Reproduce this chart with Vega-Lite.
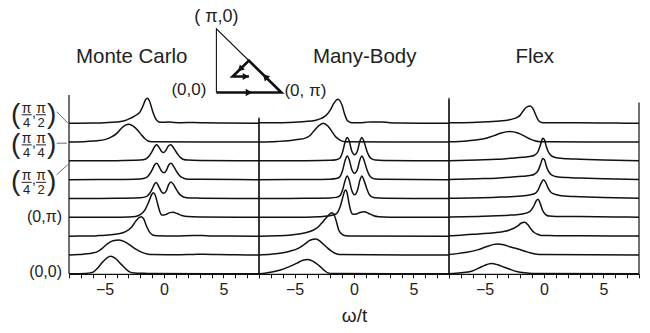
{
  "$schema": "https://vega.github.io/schema/vega-lite/v6.json",
  "padding": {"left": 11, "top": 7, "right": 0, "bottom": 0},
  "bounds": "flush",
  "spacing": 0,
  "config": {
    "view": {"stroke": null},
    "axis": {"tickSize": 4, "tickColor": "#111", "domainColor": "#111", "domainWidth": 1.2, "tickWidth": 1, "labelFontSize": 16, "labelColor": "#222", "labelPadding": 4, "grid": false, "labelFont": "Liberation Sans", "titleFont": "Liberation Sans", "titleFontSize": 19, "titleFontWeight": "normal", "titleColor": "#222", "titlePadding": 9, "labelFlush": false},
    "text": {"font": "Liberation Sans", "color": "#222"}
  },
  "datasets": {
    "mc": [
      {"k":8,"w":-8,"y":8},{"k":8,"w":-6,"y":8.01},{"k":8,"w":-5,"y":8.03},{"k":8,"w":-4,"y":8.06},{"k":8,"w":-3.5,"y":8.1},{"k":8,"w":-2.8,"y":8.27},{"k":8,"w":-2.3,"y":8.45},{"k":8,"w":-2,"y":8.62},{"k":8,"w":-1.75,"y":8.95},{"k":8,"w":-1.55,"y":9.25},{"k":8,"w":-1.4,"y":9.33},{"k":8,"w":-1.25,"y":9.22},{"k":8,"w":-1.1,"y":8.95},{"k":8,"w":-0.95,"y":8.62},{"k":8,"w":-0.75,"y":8.3},{"k":8,"w":-0.55,"y":8.12},{"k":8,"w":-0.3,"y":8.05},{"k":8,"w":0.1,"y":8.05},{"k":8,"w":0.45,"y":8.07},{"k":8,"w":0.9,"y":8.04},{"k":8,"w":1.5,"y":8.03},{"k":8,"w":2.5,"y":8.04},{"k":8,"w":3.5,"y":8.02},{"k":8,"w":5,"y":8.01},{"k":8,"w":8,"y":8},
      {"k":7,"w":-8,"y":7},{"k":7,"w":-6.5,"y":7.03},{"k":7,"w":-5.6,"y":7.07},{"k":7,"w":-5,"y":7.13},{"k":7,"w":-4.5,"y":7.25},{"k":7,"w":-4,"y":7.45},{"k":7,"w":-3.6,"y":7.72},{"k":7,"w":-3.25,"y":7.9},{"k":7,"w":-2.94,"y":7.95},{"k":7,"w":-2.6,"y":7.85},{"k":7,"w":-2.2,"y":7.62},{"k":7,"w":-1.9,"y":7.38},{"k":7,"w":-1.65,"y":7.2},{"k":7,"w":-1.4,"y":7.08},{"k":7,"w":-1.2,"y":7.03},{"k":7,"w":-0.8,"y":7.01},{"k":7,"w":8,"y":7},
      {"k":6,"w":-8,"y":6},{"k":6,"w":-4,"y":6.01},{"k":6,"w":-2,"y":6.04},{"k":6,"w":-1.53,"y":6.1},{"k":6,"w":-1.2,"y":6.3},{"k":6,"w":-1,"y":6.5},{"k":6,"w":-0.8,"y":6.75},{"k":6,"w":-0.62,"y":6.85},{"k":6,"w":-0.4,"y":6.7},{"k":6,"w":-0.2,"y":6.5},{"k":6,"w":-0.04,"y":6.44},{"k":6,"w":0.15,"y":6.55},{"k":6,"w":0.35,"y":6.78},{"k":6,"w":0.56,"y":6.85},{"k":6,"w":0.8,"y":6.7},{"k":6,"w":1,"y":6.5},{"k":6,"w":1.2,"y":6.32},{"k":6,"w":1.4,"y":6.17},{"k":6,"w":1.6,"y":6.09},{"k":6,"w":2,"y":6.04},{"k":6,"w":3,"y":6.02},{"k":6,"w":8,"y":6},
      {"k":5,"w":-8,"y":5},{"k":5,"w":-4,"y":5.01},{"k":5,"w":-2,"y":5.04},{"k":5,"w":-1.5,"y":5.11},{"k":5,"w":-1.2,"y":5.3},{"k":5,"w":-1,"y":5.52},{"k":5,"w":-0.8,"y":5.78},{"k":5,"w":-0.6,"y":5.87},{"k":5,"w":-0.4,"y":5.68},{"k":5,"w":-0.2,"y":5.45},{"k":5,"w":0,"y":5.37},{"k":5,"w":0.2,"y":5.5},{"k":5,"w":0.4,"y":5.78},{"k":5,"w":0.6,"y":5.87},{"k":5,"w":0.8,"y":5.72},{"k":5,"w":1,"y":5.5},{"k":5,"w":1.2,"y":5.3},{"k":5,"w":1.4,"y":5.16},{"k":5,"w":1.65,"y":5.08},{"k":5,"w":2.1,"y":5.03},{"k":5,"w":3,"y":5.02},{"k":5,"w":8,"y":5},
      {"k":4,"w":-8,"y":4},{"k":4,"w":-4,"y":4.01},{"k":4,"w":-2,"y":4.04},{"k":4,"w":-1.5,"y":4.1},{"k":4,"w":-1.2,"y":4.28},{"k":4,"w":-1,"y":4.5},{"k":4,"w":-0.8,"y":4.77},{"k":4,"w":-0.65,"y":4.85},{"k":4,"w":-0.45,"y":4.65},{"k":4,"w":-0.2,"y":4.35},{"k":4,"w":0,"y":4.28},{"k":4,"w":0.2,"y":4.42},{"k":4,"w":0.4,"y":4.75},{"k":4,"w":0.59,"y":4.88},{"k":4,"w":0.8,"y":4.75},{"k":4,"w":1,"y":4.52},{"k":4,"w":1.2,"y":4.32},{"k":4,"w":1.45,"y":4.15},{"k":4,"w":1.7,"y":4.07},{"k":4,"w":2.2,"y":4.03},{"k":4,"w":3,"y":4.02},{"k":4,"w":8,"y":4},
      {"k":3,"w":-8,"y":3},{"k":3,"w":-4,"y":3.01},{"k":3,"w":-3,"y":3.02},{"k":3,"w":-2.4,"y":3.05},{"k":3,"w":-2,"y":3.15},{"k":3,"w":-1.6,"y":3.4},{"k":3,"w":-1.3,"y":3.8},{"k":3,"w":-1.05,"y":4.2},{"k":3,"w":-0.9,"y":4.31},{"k":3,"w":-0.75,"y":4.2},{"k":3,"w":-0.55,"y":3.75},{"k":3,"w":-0.35,"y":3.3},{"k":3,"w":-0.2,"y":3.13},{"k":3,"w":0,"y":3.12},{"k":3,"w":0.25,"y":3.18},{"k":3,"w":0.5,"y":3.25},{"k":3,"w":0.76,"y":3.27},{"k":3,"w":1.1,"y":3.2},{"k":3,"w":1.5,"y":3.1},{"k":3,"w":2,"y":3.04},{"k":3,"w":3,"y":3.02},{"k":3,"w":8,"y":3},
      {"k":2,"w":-8,"y":2},{"k":2,"w":-6,"y":2.01},{"k":2,"w":-5.5,"y":2.03},{"k":2,"w":-4.5,"y":2.08},{"k":2,"w":-3.7,"y":2.14},{"k":2,"w":-3.2,"y":2.25},{"k":2,"w":-2.7,"y":2.5},{"k":2,"w":-2.35,"y":2.82},{"k":2,"w":-2.1,"y":2.98},{"k":2,"w":-1.9,"y":3.03},{"k":2,"w":-1.7,"y":2.9},{"k":2,"w":-1.45,"y":2.5},{"k":2,"w":-1.2,"y":2.2},{"k":2,"w":-0.95,"y":2.06},{"k":2,"w":-0.6,"y":2.02},{"k":2,"w":1,"y":2.01},{"k":2,"w":2.5,"y":2.03},{"k":2,"w":3.2,"y":2.03},{"k":2,"w":4,"y":2.01},{"k":2,"w":8,"y":2},
      {"k":1,"w":-8,"y":1},{"k":1,"w":-7.2,"y":1.02},{"k":1,"w":-6.7,"y":1.05},{"k":1,"w":-6,"y":1.1},{"k":1,"w":-5.6,"y":1.18},{"k":1,"w":-5.2,"y":1.35},{"k":1,"w":-4.8,"y":1.58},{"k":1,"w":-4.3,"y":1.76},{"k":1,"w":-3.78,"y":1.8},{"k":1,"w":-3.3,"y":1.7},{"k":1,"w":-2.8,"y":1.5},{"k":1,"w":-2.3,"y":1.28},{"k":1,"w":-1.85,"y":1.14},{"k":1,"w":-1.4,"y":1.05},{"k":1,"w":-1,"y":1.02},{"k":1,"w":1,"y":1.01},{"k":1,"w":2.5,"y":1.03},{"k":1,"w":3.4,"y":1.04},{"k":1,"w":4.5,"y":1.02},{"k":1,"w":6,"y":1.01},{"k":1,"w":8,"y":1},
      {"k":0,"w":-8,"y":0},{"k":0,"w":-6.6,"y":0.02},{"k":0,"w":-6.2,"y":0.05},{"k":0,"w":-5.9,"y":0.12},{"k":0,"w":-5.6,"y":0.3},{"k":0,"w":-5.2,"y":0.6},{"k":0,"w":-4.8,"y":0.85},{"k":0,"w":-4.48,"y":0.93},{"k":0,"w":-4.1,"y":0.82},{"k":0,"w":-3.6,"y":0.5},{"k":0,"w":-3.2,"y":0.25},{"k":0,"w":-2.9,"y":0.1},{"k":0,"w":-2.5,"y":0.04},{"k":0,"w":-2,"y":0.03},{"k":0,"w":-1.65,"y":0.03},{"k":0,"w":-1.2,"y":0.01},{"k":0,"w":8,"y":0}
    ],
    "mb": [
      {"k":8,"w":-8,"y":8.02},{"k":8,"w":-6,"y":8.03},{"k":8,"w":-5.5,"y":8.04},{"k":8,"w":-4.1,"y":8.09},{"k":8,"w":-3.3,"y":8.15},{"k":8,"w":-2.7,"y":8.27},{"k":8,"w":-2.3,"y":8.45},{"k":8,"w":-2,"y":8.7},{"k":8,"w":-1.7,"y":9.05},{"k":8,"w":-1.5,"y":9.22},{"k":8,"w":-1.36,"y":9.27},{"k":8,"w":-1.2,"y":9.2},{"k":8,"w":-1,"y":8.95},{"k":8,"w":-0.8,"y":8.5},{"k":8,"w":-0.6,"y":8.18},{"k":8,"w":-0.4,"y":8.07},{"k":8,"w":-0.19,"y":8.03},{"k":8,"w":0.5,"y":8.03},{"k":8,"w":1,"y":8.05},{"k":8,"w":1.4,"y":8.07},{"k":8,"w":2.3,"y":8.07},{"k":8,"w":3,"y":8.03},{"k":8,"w":4,"y":8.01},{"k":8,"w":8,"y":8},
      {"k":7,"w":-8,"y":7},{"k":7,"w":-6.5,"y":7.03},{"k":7,"w":-5.5,"y":7.07},{"k":7,"w":-4.8,"y":7.13},{"k":7,"w":-4.1,"y":7.21},{"k":7,"w":-3.7,"y":7.35},{"k":7,"w":-3.4,"y":7.57},{"k":7,"w":-3,"y":7.85},{"k":7,"w":-2.58,"y":8},{"k":7,"w":-2.2,"y":7.85},{"k":7,"w":-1.87,"y":7.57},{"k":7,"w":-1.6,"y":7.32},{"k":7,"w":-1.3,"y":7.16},{"k":7,"w":-1,"y":7.05},{"k":7,"w":-0.73,"y":7.01},{"k":7,"w":8,"y":7},
      {"k":6,"w":-8,"y":6},{"k":6,"w":-4,"y":6.01},{"k":6,"w":-2,"y":6.03},{"k":6,"w":-1.5,"y":6.06},{"k":6,"w":-1.2,"y":6.14},{"k":6,"w":-0.95,"y":6.5},{"k":6,"w":-0.75,"y":7},{"k":6,"w":-0.57,"y":7.24},{"k":6,"w":-0.4,"y":7.05},{"k":6,"w":-0.2,"y":6.55},{"k":6,"w":0.05,"y":6.32},{"k":6,"w":0.3,"y":6.55},{"k":6,"w":0.5,"y":7.05},{"k":6,"w":0.67,"y":7.24},{"k":6,"w":0.85,"y":7},{"k":6,"w":1.1,"y":6.5},{"k":6,"w":1.3,"y":6.22},{"k":6,"w":1.5,"y":6.1},{"k":6,"w":1.8,"y":6.04},{"k":6,"w":2.5,"y":6.02},{"k":6,"w":8,"y":6},
      {"k":5,"w":-8,"y":5},{"k":5,"w":-4,"y":5.01},{"k":5,"w":-2,"y":5.03},{"k":5,"w":-1.5,"y":5.06},{"k":5,"w":-1.2,"y":5.15},{"k":5,"w":-0.95,"y":5.52},{"k":5,"w":-0.75,"y":6.02},{"k":5,"w":-0.57,"y":6.26},{"k":5,"w":-0.4,"y":6.06},{"k":5,"w":-0.2,"y":5.57},{"k":5,"w":0.05,"y":5.34},{"k":5,"w":0.3,"y":5.57},{"k":5,"w":0.5,"y":6.06},{"k":5,"w":0.67,"y":6.26},{"k":5,"w":0.85,"y":6.02},{"k":5,"w":1.1,"y":5.52},{"k":5,"w":1.3,"y":5.23},{"k":5,"w":1.5,"y":5.1},{"k":5,"w":1.8,"y":5.04},{"k":5,"w":2.5,"y":5.02},{"k":5,"w":8,"y":5},
      {"k":4,"w":-8,"y":4},{"k":4,"w":-4,"y":4.01},{"k":4,"w":-2,"y":4.03},{"k":4,"w":-1.5,"y":4.06},{"k":4,"w":-1.2,"y":4.14},{"k":4,"w":-0.95,"y":4.48},{"k":4,"w":-0.75,"y":4.95},{"k":4,"w":-0.57,"y":5.2},{"k":4,"w":-0.4,"y":4.98},{"k":4,"w":-0.2,"y":4.45},{"k":4,"w":0.05,"y":4.2},{"k":4,"w":0.3,"y":4.45},{"k":4,"w":0.5,"y":4.98},{"k":4,"w":0.67,"y":5.2},{"k":4,"w":0.85,"y":4.95},{"k":4,"w":1.1,"y":4.48},{"k":4,"w":1.3,"y":4.2},{"k":4,"w":1.5,"y":4.09},{"k":4,"w":1.8,"y":4.04},{"k":4,"w":2.5,"y":4.02},{"k":4,"w":8,"y":4},
      {"k":3,"w":-8,"y":3},{"k":3,"w":-4,"y":3.01},{"k":3,"w":-3,"y":3.03},{"k":3,"w":-2.2,"y":3.07},{"k":3,"w":-1.8,"y":3.12},{"k":3,"w":-1.45,"y":3.21},{"k":3,"w":-1.16,"y":3.57},{"k":3,"w":-0.95,"y":4.05},{"k":3,"w":-0.8,"y":4.38},{"k":3,"w":-0.7,"y":4.45},{"k":3,"w":-0.58,"y":4.3},{"k":3,"w":-0.45,"y":3.85},{"k":3,"w":-0.3,"y":3.4},{"k":3,"w":-0.1,"y":3.17},{"k":3,"w":0.2,"y":3.18},{"k":3,"w":0.5,"y":3.26},{"k":3,"w":0.87,"y":3.3},{"k":3,"w":1.2,"y":3.22},{"k":3,"w":1.6,"y":3.1},{"k":3,"w":2.1,"y":3.03},{"k":3,"w":3,"y":3.01},{"k":3,"w":8,"y":3},
      {"k":2,"w":-8,"y":2},{"k":2,"w":-6.5,"y":2.02},{"k":2,"w":-5.5,"y":2.05},{"k":2,"w":-4.8,"y":2.1},{"k":2,"w":-4.1,"y":2.18},{"k":2,"w":-3.5,"y":2.3},{"k":2,"w":-3,"y":2.5},{"k":2,"w":-2.7,"y":2.71},{"k":2,"w":-2.3,"y":3},{"k":2,"w":-2,"y":3.2},{"k":2,"w":-1.86,"y":3.24},{"k":2,"w":-1.65,"y":3.1},{"k":2,"w":-1.45,"y":2.7},{"k":2,"w":-1.3,"y":2.35},{"k":2,"w":-1.1,"y":2.15},{"k":2,"w":-0.88,"y":2.05},{"k":2,"w":-0.5,"y":2.01},{"k":2,"w":8,"y":2},
      {"k":1,"w":-8,"y":1},{"k":1,"w":-7,"y":1.04},{"k":1,"w":-6.1,"y":1.1},{"k":1,"w":-5.4,"y":1.2},{"k":1,"w":-4.7,"y":1.35},{"k":1,"w":-4.2,"y":1.55},{"k":1,"w":-3.7,"y":1.78},{"k":1,"w":-3.2,"y":1.85},{"k":1,"w":-2.8,"y":1.7},{"k":1,"w":-2.3,"y":1.41},{"k":1,"w":-1.9,"y":1.2},{"k":1,"w":-1.6,"y":1.09},{"k":1,"w":-1.2,"y":1.02},{"k":1,"w":8,"y":1},
      {"k":0,"w":-8,"y":0},{"k":0,"w":-7.5,"y":0.03},{"k":0,"w":-6.9,"y":0.09},{"k":0,"w":-6.2,"y":0.2},{"k":0,"w":-5.5,"y":0.37},{"k":0,"w":-4.8,"y":0.57},{"k":0,"w":-4.3,"y":0.72},{"k":0,"w":-3.9,"y":0.76},{"k":0,"w":-3.4,"y":0.65},{"k":0,"w":-2.9,"y":0.41},{"k":0,"w":-2.5,"y":0.18},{"k":0,"w":-2.2,"y":0.05},{"k":0,"w":-1.8,"y":0.01},{"k":0,"w":8,"y":0}
    ],
    "fx": [
      {"k":8,"w":-8,"y":8.02},{"k":8,"w":-6,"y":8.04},{"k":8,"w":-4,"y":8.1},{"k":8,"w":-2.8,"y":8.2},{"k":8,"w":-2.3,"y":8.3},{"k":8,"w":-2,"y":8.43},{"k":8,"w":-1.7,"y":8.7},{"k":8,"w":-1.4,"y":8.88},{"k":8,"w":-1.15,"y":8.92},{"k":8,"w":-0.95,"y":8.8},{"k":8,"w":-0.7,"y":8.45},{"k":8,"w":-0.5,"y":8.18},{"k":8,"w":-0.3,"y":8.06},{"k":8,"w":-0.1,"y":8.03},{"k":8,"w":1,"y":8.03},{"k":8,"w":3,"y":8.02},{"k":8,"w":6,"y":8.01},{"k":8,"w":8,"y":8},
      {"k":7,"w":-8,"y":7.01},{"k":7,"w":-6.5,"y":7.06},{"k":7,"w":-5.6,"y":7.12},{"k":7,"w":-4.8,"y":7.22},{"k":7,"w":-4.2,"y":7.34},{"k":7,"w":-3.6,"y":7.48},{"k":7,"w":-2.9,"y":7.56},{"k":7,"w":-2.2,"y":7.48},{"k":7,"w":-1.6,"y":7.3},{"k":7,"w":-1.1,"y":7.14},{"k":7,"w":-0.8,"y":7.07},{"k":7,"w":-0.3,"y":7.02},{"k":7,"w":0.5,"y":7.01},{"k":7,"w":8,"y":7},
      {"k":6,"w":-8,"y":6.01},{"k":6,"w":-5.6,"y":6.05},{"k":6,"w":-4,"y":6.08},{"k":6,"w":-2.8,"y":6.14},{"k":6,"w":-1.8,"y":6.19},{"k":6,"w":-1.2,"y":6.23},{"k":6,"w":-0.8,"y":6.3},{"k":6,"w":-0.5,"y":6.5},{"k":6,"w":-0.3,"y":6.85},{"k":6,"w":-0.1,"y":7.2},{"k":6,"w":0.05,"y":7.1},{"k":6,"w":0.2,"y":6.75},{"k":6,"w":0.35,"y":6.5},{"k":6,"w":0.6,"y":6.28},{"k":6,"w":1.05,"y":6.16},{"k":6,"w":2,"y":6.11},{"k":6,"w":3,"y":6.09},{"k":6,"w":5,"y":6.05},{"k":6,"w":8,"y":6.01},
      {"k":5,"w":-8,"y":5.01},{"k":5,"w":-5.6,"y":5.05},{"k":5,"w":-4,"y":5.08},{"k":5,"w":-2.8,"y":5.13},{"k":5,"w":-1.8,"y":5.18},{"k":5,"w":-1.2,"y":5.22},{"k":5,"w":-0.8,"y":5.29},{"k":5,"w":-0.5,"y":5.48},{"k":5,"w":-0.3,"y":5.8},{"k":5,"w":-0.1,"y":6.13},{"k":5,"w":0.05,"y":6.05},{"k":5,"w":0.2,"y":5.72},{"k":5,"w":0.35,"y":5.48},{"k":5,"w":0.6,"y":5.27},{"k":5,"w":1.05,"y":5.16},{"k":5,"w":2,"y":5.11},{"k":5,"w":3,"y":5.09},{"k":5,"w":5,"y":5.05},{"k":5,"w":8,"y":5.01},
      {"k":4,"w":-8,"y":4.01},{"k":4,"w":-4,"y":4.07},{"k":4,"w":-2.8,"y":4.1},{"k":4,"w":-1.5,"y":4.16},{"k":4,"w":-0.8,"y":4.25},{"k":4,"w":-0.5,"y":4.45},{"k":4,"w":-0.25,"y":4.8},{"k":4,"w":-0.05,"y":5},{"k":4,"w":0.15,"y":4.85},{"k":4,"w":0.35,"y":4.55},{"k":4,"w":0.6,"y":4.32},{"k":4,"w":1.05,"y":4.2},{"k":4,"w":2,"y":4.12},{"k":4,"w":3,"y":4.1},{"k":4,"w":5,"y":4.06},{"k":4,"w":8,"y":4.02},
      {"k":3,"w":-8,"y":3.01},{"k":3,"w":-5.6,"y":3.05},{"k":3,"w":-4,"y":3.08},{"k":3,"w":-2.8,"y":3.12},{"k":3,"w":-1.8,"y":3.18},{"k":3,"w":-1.2,"y":3.3},{"k":3,"w":-0.9,"y":3.55},{"k":3,"w":-0.65,"y":3.88},{"k":3,"w":-0.5,"y":3.96},{"k":3,"w":-0.3,"y":3.7},{"k":3,"w":-0.1,"y":3.35},{"k":3,"w":0.05,"y":3.2},{"k":3,"w":0.25,"y":3.1},{"k":3,"w":0.45,"y":3.07},{"k":3,"w":1,"y":3.05},{"k":3,"w":3,"y":3.04},{"k":3,"w":6,"y":3.02},{"k":3,"w":8,"y":3.01},
      {"k":2,"w":-8,"y":2.02},{"k":2,"w":-7,"y":2.05},{"k":2,"w":-5.5,"y":2.12},{"k":2,"w":-4.2,"y":2.18},{"k":2,"w":-3.3,"y":2.26},{"k":2,"w":-2.8,"y":2.35},{"k":2,"w":-2.2,"y":2.55},{"k":2,"w":-1.9,"y":2.7},{"k":2,"w":-1.63,"y":2.74},{"k":2,"w":-1.35,"y":2.6},{"k":2,"w":-1.07,"y":2.35},{"k":2,"w":-0.8,"y":2.18},{"k":2,"w":-0.5,"y":2.09},{"k":2,"w":-0.2,"y":2.04},{"k":2,"w":0.5,"y":2.03},{"k":2,"w":3,"y":2.02},{"k":2,"w":8,"y":2.01},
      {"k":1,"w":-8,"y":1.02},{"k":1,"w":-7.6,"y":1.05},{"k":1,"w":-6.5,"y":1.14},{"k":1,"w":-5.6,"y":1.27},{"k":1,"w":-4.8,"y":1.45},{"k":1,"w":-4.3,"y":1.55},{"k":1,"w":-3.9,"y":1.58},{"k":1,"w":-3.4,"y":1.54},{"k":1,"w":-2.8,"y":1.42},{"k":1,"w":-2.2,"y":1.32},{"k":1,"w":-1.6,"y":1.2},{"k":1,"w":-1.1,"y":1.1},{"k":1,"w":-0.6,"y":1.04},{"k":1,"w":-0.2,"y":1.02},{"k":1,"w":8,"y":1},
      {"k":0,"w":-8,"y":0},{"k":0,"w":-7,"y":0.05},{"k":0,"w":-6.1,"y":0.14},{"k":0,"w":-5.5,"y":0.3},{"k":0,"w":-5,"y":0.45},{"k":0,"w":-4.44,"y":0.55},{"k":0,"w":-3.9,"y":0.48},{"k":0,"w":-3.4,"y":0.36},{"k":0,"w":-3,"y":0.27},{"k":0,"w":-2.3,"y":0.12},{"k":0,"w":-1.6,"y":0.05},{"k":0,"w":-1,"y":0.02},{"k":0,"w":8,"y":0}
    ],
    "frac": [
      {"y": 8.45, "d1": "4", "d2": "2"},
      {"y": 6.85, "d1": "4", "d2": "4"},
      {"y": 4.86, "d1": "4", "d2": "2"}
    ],
    "lbl": [
      {"y": 3.0, "t": "(0,π)"},
      {"y": 0.1, "t": "(0,0)"}
    ],
    "lead": [
      {"x1": -9.04, "y1": 8.61, "x2": -8.11, "y2": 8.02},
      {"x1": -9.04, "y1": 6.94, "x2": -8.19, "y2": 6.94},
      {"x1": -9.04, "y1": 5.26, "x2": -8.11, "y2": 5.79}
    ],
    "tri": [
      {"o": 1, "kx": 0, "ky": 0},
      {"o": 2, "kx": 3.1416, "ky": 0},
      {"o": 3, "kx": 0, "ky": 3.1416}
    ],
    "route": [
      {"o": 1, "kx": 0, "ky": 0},
      {"o": 2, "kx": 0, "ky": 3.1416},
      {"o": 3, "kx": 1.5708, "ky": 1.5708},
      {"o": 4, "kx": 0.7854, "ky": 0.7854},
      {"o": 5, "kx": 0.7854, "ky": 1.5708}
    ]
  },
  "hconcat": [
    {
      "width": 190,
      "height": 178.8,
      "layer": [
        {
          "layer": [
            {
              "data": {"name": "mc"},
              "mark": {"type": "line", "interpolate": "monotone", "stroke": "#111", "strokeWidth": 1.5},
              "encoding": {
                "x": {"field": "w", "type": "quantitative", "scale": {"domain": [-8, 8], "nice": false, "zero": false}, "axis": {"orient": "bottom", "values": [-8,-7,-6,-5,-4,-3,-2,-1,0,1,2,3,4,5,6,7,8], "labels": false, "title": null}},
                "y": {"field": "y", "type": "quantitative", "scale": {"domain": [0, 9.5], "nice": false, "zero": false}, "axis": null},
                "detail": {"field": "k", "type": "nominal"}
              }
            },
            {
              "data": {"values": [{}]},
              "mark": {"type": "rule", "stroke": "#111", "strokeWidth": 1.2},
              "encoding": {"x": {"datum": -8, "axis": {"orient": "bottom", "values": [-5, 0, 5], "ticks": false, "domain": false, "labelPadding": 8, "title": null}}, "y": {"datum": 0}, "y2": {"datum": 9.5}}
            },
            {
              "data": {"values": [{}]},
              "mark": {"type": "rule", "stroke": "#111", "strokeWidth": 1.2},
              "encoding": {"x": {"datum": 8, "axis": null}, "y": {"datum": 0}, "y2": {"datum": 8.3}}
            },
            {
              "data": {"values": [{}]},
              "mark": {"type": "text", "text": "Monte Carlo", "fontSize": 20.5, "align": "center", "baseline": "alphabetic"},
              "encoding": {"x": {"datum": -2.72, "axis": null}, "y": {"datum": 11.21}}
            },
            {
              "data": {"name": "frac"},
              "mark": {"type": "text", "text": "π", "fontSize": 14, "align": "center", "baseline": "alphabetic", "dx": -42.3, "dy": -2},
              "encoding": {"x": {"datum": -8, "axis": null}, "y": {"field": "y", "type": "quantitative"}}
            },
            {
              "data": {"name": "frac"},
              "mark": {"type": "text", "text": "π", "fontSize": 14, "align": "center", "baseline": "alphabetic", "dx": -28, "dy": -2},
              "encoding": {"x": {"datum": -8, "axis": null}, "y": {"field": "y", "type": "quantitative"}}
            },
            {
              "data": {"name": "frac"},
              "mark": {"type": "text", "fontSize": 13, "align": "center", "baseline": "alphabetic", "dx": -42.3, "dy": 12},
              "encoding": {"x": {"datum": -8, "axis": null}, "y": {"field": "y", "type": "quantitative"}, "text": {"field": "d1"}}
            },
            {
              "data": {"name": "frac"},
              "mark": {"type": "text", "fontSize": 13, "align": "center", "baseline": "alphabetic", "dx": -28, "dy": 12},
              "encoding": {"x": {"datum": -8, "axis": null}, "y": {"field": "y", "type": "quantitative"}, "text": {"field": "d2"}}
            },
            {
              "data": {"name": "frac"},
              "mark": {"type": "tick", "orient": "horizontal", "size": 10, "thickness": 1, "xOffset": -42.3, "color": "#222", "opacity": 1},
              "encoding": {"x": {"datum": -8, "axis": null}, "y": {"field": "y", "type": "quantitative"}}
            },
            {
              "data": {"name": "frac"},
              "mark": {"type": "tick", "orient": "horizontal", "size": 10, "thickness": 1, "xOffset": -28, "color": "#222", "opacity": 1},
              "encoding": {"x": {"datum": -8, "axis": null}, "y": {"field": "y", "type": "quantitative"}}
            },
            {
              "data": {"name": "frac"},
              "mark": {"type": "text", "text": "(", "fontSize": 28, "align": "center", "baseline": "middle", "dx": -53.3},
              "encoding": {"x": {"datum": -8, "axis": null}, "y": {"field": "y", "type": "quantitative"}}
            },
            {
              "data": {"name": "frac"},
              "mark": {"type": "text", "text": ")", "fontSize": 28, "align": "center", "baseline": "middle", "dx": -17.3},
              "encoding": {"x": {"datum": -8, "axis": null}, "y": {"field": "y", "type": "quantitative"}}
            },
            {
              "data": {"name": "frac"},
              "mark": {"type": "text", "text": ",", "fontSize": 14, "align": "center", "baseline": "middle", "dx": -35, "dy": -2},
              "encoding": {"x": {"datum": -8, "axis": null}, "y": {"field": "y", "type": "quantitative"}}
            },
            {
              "data": {"name": "lbl"},
              "mark": {"type": "text", "fontSize": 16, "align": "right", "baseline": "middle", "dx": -7},
              "encoding": {"x": {"datum": -8, "axis": null}, "y": {"field": "y", "type": "quantitative"}, "text": {"field": "t"}}
            },
            {
              "data": {"name": "lead"},
              "mark": {"type": "rule", "stroke": "#444", "strokeWidth": 0.8},
              "encoding": {"x": {"field": "x1", "type": "quantitative", "axis": null}, "y": {"field": "y1", "type": "quantitative"}, "x2": {"field": "x2"}, "y2": {"field": "y2"}}
            }
          ],
          "resolve": {"axis": {"x": "independent"}}
        },
        {
          "layer": [
            {
              "data": {"name": "tri"},
              "mark": {"type": "line", "stroke": "#111", "strokeWidth": 1.1},
              "encoding": {
                "x": {"field": "ky", "type": "quantitative", "scale": {"domain": [0, 3.1416], "range": [147.4, 212.4], "nice": false, "zero": false}, "axis": null},
                "y": {"field": "kx", "type": "quantitative", "scale": {"domain": [0, 3.1416], "range": [-2.5, -66.2], "nice": false, "zero": false}, "axis": null},
                "order": {"field": "o"}
              }
            },
            {
              "data": {"name": "route"},
              "mark": {"type": "line", "stroke": "#111", "strokeWidth": 2.6},
              "encoding": {
                "x": {"field": "ky", "type": "quantitative"},
                "y": {"field": "kx", "type": "quantitative"},
                "order": {"field": "o"}
              }
            },
            {
              "data": {"values": [{}]},
              "mark": {"type": "point", "shape": "triangle-right", "filled": true, "size": 55, "color": "#111", "opacity": 1},
              "encoding": {"x": {"datum": 1.5708}, "y": {"datum": 0}}
            },
            {
              "data": {"values": [{}]},
              "mark": {"type": "point", "shape": "triangle-up", "angle": 315, "filled": true, "size": 55, "color": "#111", "opacity": 1},
              "encoding": {"x": {"datum": 2.36}, "y": {"datum": 0.785}}
            },
            {
              "data": {"values": [{}]},
              "mark": {"type": "point", "shape": "triangle-up", "angle": 225, "filled": true, "size": 50, "color": "#111", "opacity": 1},
              "encoding": {"x": {"datum": 1.15}, "y": {"datum": 1.15}}
            },
            {
              "data": {"values": [{}]},
              "mark": {"type": "point", "shape": "triangle-right", "filled": true, "size": 50, "color": "#111", "opacity": 1},
              "encoding": {"x": {"datum": 1.42}, "y": {"datum": 0.7854}}
            },
            {
              "data": {"values": [{}]},
              "mark": {"type": "text", "text": "( π,0)", "fontSize": 18, "align": "center", "baseline": "bottom", "dy": -3},
              "encoding": {"x": {"datum": 0}, "y": {"datum": 3.1416}}
            },
            {
              "data": {"values": [{}]},
              "mark": {"type": "text", "text": "(0,0)", "fontSize": 17, "align": "right", "baseline": "middle", "dx": -10, "dy": -2},
              "encoding": {"x": {"datum": 0}, "y": {"datum": 0}}
            },
            {
              "data": {"values": [{}]},
              "mark": {"type": "text", "text": "(0, π)", "fontSize": 17, "align": "left", "baseline": "middle", "dx": 3, "dy": -1},
              "encoding": {"x": {"datum": 3.1416}, "y": {"datum": 0}}
            }
          ]
        }
      ],
      "resolve": {"scale": {"x": "independent", "y": "independent"}}
    },
    {
      "width": 190,
      "height": 178.8,
      "layer": [
        {
          "data": {"name": "mb"},
          "mark": {"type": "line", "interpolate": "monotone", "stroke": "#111", "strokeWidth": 1.5},
          "encoding": {
            "x": {"field": "w", "type": "quantitative", "scale": {"domain": [-8, 8], "nice": false, "zero": false}, "axis": {"orient": "bottom", "values": [-8,-7,-6,-5,-4,-3,-2,-1,0,1,2,3,4,5,6,7,8], "labels": false, "title": null}},
            "y": {"field": "y", "type": "quantitative", "scale": {"domain": [0, 9.5], "nice": false, "zero": false}, "axis": null},
            "detail": {"field": "k", "type": "nominal"}
          }
        },
        {
          "data": {"values": [{}]},
          "mark": {"type": "rule", "stroke": "#111", "strokeWidth": 1.2},
          "encoding": {"x": {"datum": -8, "axis": {"orient": "bottom", "values": [-5, 0, 5], "ticks": false, "domain": false, "labelPadding": 8, "title": "ω/t"}}, "y": {"datum": 0}, "y2": {"datum": 8.25}}
        },
        {
          "data": {"values": [{}]},
          "mark": {"type": "rule", "stroke": "#111", "strokeWidth": 1.2},
          "encoding": {"x": {"datum": 8, "axis": null}, "y": {"datum": 0}, "y2": {"datum": 9.25}}
        },
        {
          "data": {"values": [{}]},
          "mark": {"type": "text", "text": "Many-Body", "fontSize": 20.5, "align": "center", "baseline": "alphabetic"},
          "encoding": {"x": {"datum": 0.9, "axis": null}, "y": {"datum": 11.21}}
        }
      ],
      "resolve": {"axis": {"x": "independent"}}
    },
    {
      "width": 190,
      "height": 178.8,
      "layer": [
        {
          "data": {"name": "fx"},
          "mark": {"type": "line", "interpolate": "monotone", "stroke": "#111", "strokeWidth": 1.5},
          "encoding": {
            "x": {"field": "w", "type": "quantitative", "scale": {"domain": [-8, 8], "nice": false, "zero": false}, "axis": {"orient": "bottom", "values": [-8,-7,-6,-5,-4,-3,-2,-1,0,1,2,3,4,5,6,7,8], "labels": false, "title": null}},
            "y": {"field": "y", "type": "quantitative", "scale": {"domain": [0, 9.5], "nice": false, "zero": false}, "axis": null},
            "detail": {"field": "k", "type": "nominal"}
          }
        },
        {
          "data": {"values": [{}]},
          "mark": {"type": "rule", "stroke": "#111", "strokeWidth": 1.2},
          "encoding": {"x": {"datum": -8, "axis": {"orient": "bottom", "values": [-5, 0, 5], "ticks": false, "domain": false, "labelPadding": 8, "title": null}}, "y": {"datum": 0}, "y2": {"datum": 9.35}}
        },
        {
          "data": {"values": [{}]},
          "mark": {"type": "rule", "stroke": "#111", "strokeWidth": 1.2},
          "encoding": {"x": {"datum": 8, "axis": null}, "y": {"datum": 0}, "y2": {"datum": 9.1}}
        },
        {
          "data": {"values": [{}]},
          "mark": {"type": "text", "text": "Flex", "fontSize": 20.5, "align": "center", "baseline": "alphabetic"},
          "encoding": {"x": {"datum": -0.78, "axis": null}, "y": {"datum": 11.21}}
        }
      ],
      "resolve": {"axis": {"x": "independent"}}
    }
  ]
}
